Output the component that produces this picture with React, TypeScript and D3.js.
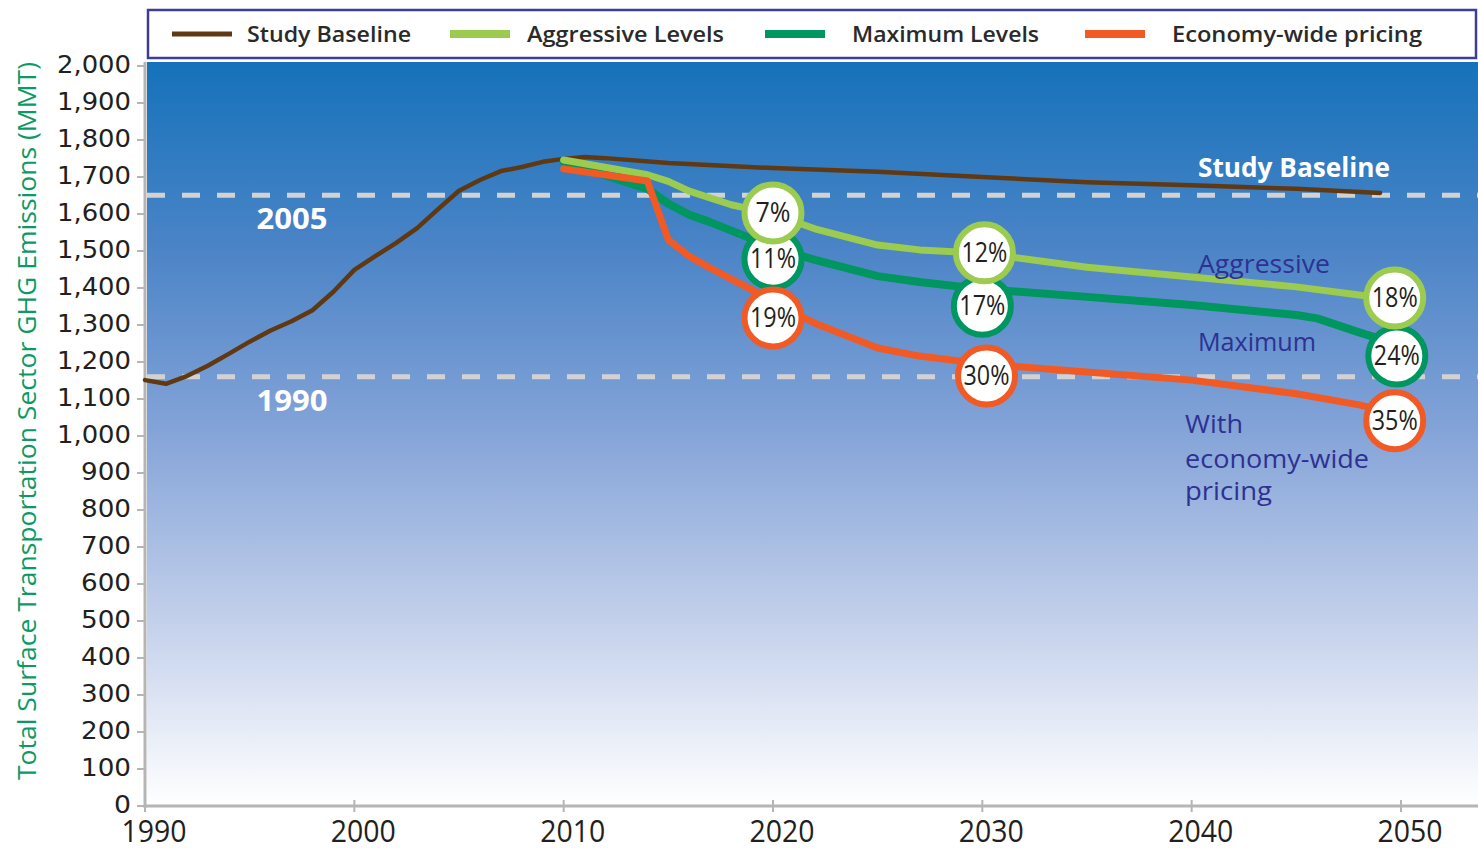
import React from "react";
import * as d3 from "d3";

const baselineYears = [1990, 1991, 1992, 1993, 1994, 1995, 1996, 1997, 1998, 1999, 2000, 2001, 2002, 2003, 2004, 2005, 2006, 2007, 2008, 2009, 2010, 2011, 2012, 2015, 2020, 2025, 2030, 2035, 2040, 2045, 2049];
const baselineValues = [1151, 1141, 1162, 1190, 1222, 1255, 1285, 1310, 1340, 1390, 1449, 1486, 1522, 1562, 1613, 1663, 1692, 1716, 1727, 1741, 1749, 1754, 1751, 1738, 1724, 1714, 1700, 1686, 1678, 1668, 1657];

const aggressiveYears = [2010, 2014, 2015, 2016, 2018, 2020, 2022, 2025, 2027, 2030, 2035, 2040, 2045, 2048, 2050];
const aggressiveValues = [1746, 1706, 1688, 1662, 1625, 1600, 1560, 1516, 1503, 1494, 1456, 1430, 1403, 1381, 1365];

const maximumYears = [2010, 2014, 2015, 2016, 2017, 2020, 2022, 2025, 2027, 2030, 2035, 2040, 2045, 2046, 2048, 2050];
const maximumValues = [1741, 1668, 1628, 1598, 1578, 1510, 1476, 1432, 1416, 1397, 1376, 1354, 1327, 1318, 1280, 1245];

const pricingYears = [2010, 2014, 2015, 2016, 2017, 2019, 2020, 2022, 2025, 2027, 2030, 2035, 2040, 2045, 2048, 2050];
const pricingValues = [1722, 1689, 1530, 1486, 1454, 1395, 1360, 1305, 1238, 1216, 1195, 1173, 1151, 1114, 1084, 1057];

const refLabels = ["2005", "1990"];
const refValues = [1651, 1160];

const circleLabels = ["11%", "17%", "24%", "7%", "12%", "18%", "19%", "30%", "35%"];
const circleSeries = ["max", "max", "max", "agg", "agg", "agg", "price", "price", "price"];
const circleYears = [2020, 2030, 2049.8, 2020, 2030.1, 2049.7, 2020, 2030.2, 2049.7];
const circleValues = [1478, 1351, 1216, 1603, 1495, 1373, 1319, 1162, 1041];

const legendLabels = ["Study Baseline", "Aggressive Levels", "Maximum Levels", "Economy-wide pricing"];
const yTicks = d3.range(0, 2001, 100);
const xTicks = [1990, 2000, 2010, 2020, 2030, 2040, 2050];

const COLORS: Record<string, string> = {
  base: "#603913",
  agg: "#9bcb4f",
  max: "#00965f",
  price: "#f15a24",
};

export default function App() {
  const x = d3.scaleLinear().domain([1990, 2050]).range([145, 1401]);
  const y = d3.scaleLinear().domain([0, 2000]).range([806, 66]);
  const line = d3
    .line<[number, number]>()
    .x((d) => x(d[0]))
    .y((d) => y(d[1]))
    .curve(d3.curveLinear);
  const zip = (a: number[], b: number[]) => a.map((v, i) => [v, b[i]] as [number, number]);

  const font = "'Open Sans', 'DejaVu Sans', sans-serif";
  const legendLineX = [172, 450, 765, 1085];
  const legendTextX = [247, 527, 852, 1172];
  const legendTextW = [164, 197, 187, 250];
  const legendColors = [COLORS.base, COLORS.agg, COLORS.max, COLORS.price];

  return (
    <svg
      width={1478}
      height={848}
      style={{ position: "absolute", left: 0, top: 0, background: "#fff" }}
      fontFamily={font}
    >
      <defs>
        <linearGradient id="bg" x1="0" y1="0" x2="0" y2="1">
          <stop offset="0" stopColor="#1572ba" />
          <stop offset="0.25" stopColor="#4b84c7" />
          <stop offset="0.5" stopColor="#85a4d8" />
          <stop offset="0.75" stopColor="#c3d0eb" />
          <stop offset="1" stopColor="#ffffff" />
        </linearGradient>
      </defs>
      <rect x={147} y={62} width={1331} height={744} fill="url(#bg)" />

      {/* Legend */}
      <rect x={148} y={10} width={1328} height={48} fill="#fff" stroke="#3d3d99" strokeWidth={2.5} />
      {legendLabels.map((l, i) => (
        <g key={l}>
          <line x1={legendLineX[i]} x2={legendLineX[i] + 60} y1={34} y2={34} stroke={legendColors[i]} strokeWidth={i === 0 ? 5 : 8} />
          <text x={legendTextX[i]} y={42} fontSize={22} fontWeight={600} fill="#2a2a2a" textLength={legendTextW[i]} lengthAdjust="spacingAndGlyphs">
            {l}
          </text>
        </g>
      ))}

      {/* Reference dashed lines */}
      {refValues.map((v, i) => (
        <g key={refLabels[i]}>
          <line x1={147} x2={1478} y1={y(v)} y2={y(v)} stroke="#d2d2d2" strokeWidth={5} strokeDasharray="18 17" />
          <text x={292} y={y(v) + 34} textAnchor="middle" fontSize={28} fontWeight={700} fill="#fff" textLength={71} lengthAdjust="spacingAndGlyphs">
            {refLabels[i]}
          </text>
        </g>
      ))}

      {/* Axes */}
      <line x1={145} x2={145} y1={62} y2={808} stroke="#b5b5b5" strokeWidth={3} />
      <line x1={144} x2={1478} y1={806} y2={806} stroke="#b5b5b5" strokeWidth={3} />
      {yTicks.map((t) => (
        <g key={t}>
          <line x1={137} x2={145} y1={y(t)} y2={y(t)} stroke="#b5b5b5" strokeWidth={2} />
          <text x={131} y={y(t) + 7} textAnchor="end" fontSize={25} fill="#231f20" fontFamily="'DejaVu Sans', sans-serif" textLength={t >= 1000 ? 74 : t === 0 ? 17 : 50} lengthAdjust="spacingAndGlyphs">
            {d3.format(",")(t)}
          </text>
        </g>
      ))}
      {xTicks.map((t) => (
        <g key={t}>
          <line x1={x(t)} x2={x(t)} y1={800} y2={812} stroke="#b5b5b5" strokeWidth={2} />
          <text x={x(t) + 9} y={842} textAnchor="middle" fontSize={31} fill="#231f20" textLength={65} lengthAdjust="spacingAndGlyphs">
            {t}
          </text>
        </g>
      ))}
      <text
        transform="translate(36,421) rotate(-90)"
        textAnchor="middle"
        fontSize={25}
        fill="#0b9a64"
        textLength={718}
        lengthAdjust="spacingAndGlyphs"
      >
        Total Surface Transportation Sector GHG Emissions (MMT)
      </text>

      {/* Series */}
      <path d={line(zip(baselineYears, baselineValues)) || ""} fill="none" stroke={COLORS.base} strokeWidth={4.5} strokeLinejoin="round" strokeLinecap="round" />
      <path d={line(zip(maximumYears, maximumValues)) || ""} fill="none" stroke={COLORS.max} strokeWidth={8} strokeLinejoin="round" strokeLinecap="round" />
      <path d={line(zip(aggressiveYears, aggressiveValues)) || ""} fill="none" stroke={COLORS.agg} strokeWidth={7} strokeLinejoin="round" strokeLinecap="round" />
      <path d={line(zip(pricingYears, pricingValues)) || ""} fill="none" stroke={COLORS.price} strokeWidth={7} strokeLinejoin="round" strokeLinecap="round" />

      {/* Annotations */}
      <text x={1198} y={177} fontSize={26} fontWeight={700} fill="#fff" textLength={192} lengthAdjust="spacingAndGlyphs">Study Baseline</text>
      <text x={1198} y={273} fontSize={26} fill="#2e3192" textLength={132} lengthAdjust="spacingAndGlyphs">Aggressive</text>
      <text x={1198} y={351} fontSize={26} fill="#2e3192" textLength={118} lengthAdjust="spacingAndGlyphs">Maximum</text>
      <text x={1185} y={433} fontSize={25} fill="#2e3192" textLength={58} lengthAdjust="spacingAndGlyphs">With</text>
      <text x={1185} y={468} fontSize={25} fill="#2e3192" textLength={184} lengthAdjust="spacingAndGlyphs">economy-wide</text>
      <text x={1185} y={500} fontSize={25} fill="#2e3192" textLength={87} lengthAdjust="spacingAndGlyphs">pricing</text>

      {/* Circles */}
      {circleLabels.map((l, i) => (
        <g key={l} transform={`translate(${x(circleYears[i])},${y(circleValues[i])})`}>
          <circle r={28.5} fill="#fff" stroke={COLORS[circleSeries[i]]} strokeWidth={6} />
          <text y={9} textAnchor="middle" fontSize={27} fill="#231f20" textLength={l.length === 2 ? 35 : 46} lengthAdjust="spacingAndGlyphs">
            {l}
          </text>
        </g>
      ))}
    </svg>
  );
}
